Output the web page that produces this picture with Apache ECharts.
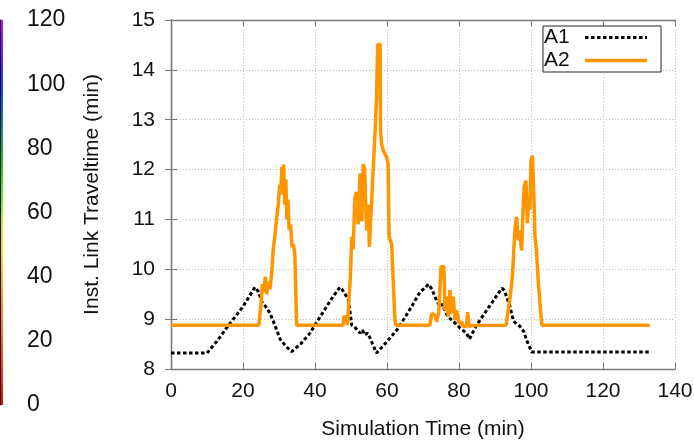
<!DOCTYPE html>
<html>
<head>
<meta charset="utf-8">
<script src="https://cdn.jsdelivr.net/npm/echarts@6/dist/echarts.min.js"></script>
<style>
html,body{margin:0;padding:0;background:#fff;}
#chart{width:694px;height:441px;}
</style>
</head>
<body>
<div id="chart"></div>
<script>
// ---- data ----
const xTicks = [0, 20, 40, 60, 80, 100, 120, 140];
const yTicks = [8, 9, 10, 11, 12, 13, 14, 15];
const colorbarTicks = [0, 20, 40, 60, 80, 100, 120];
const seriesNames = ['A1', 'A2'];

const A1_t = [0, 10, 13, 16, 20, 23.3, 24.3, 25.2, 26.3, 27.5, 29, 30.3, 32, 33.5, 36, 38.6, 41, 43.2, 45, 46.9, 47.5, 48.4, 49.3, 50.2, 51.0, 51.5, 52.5, 53.2, 53.8, 54.6, 55.3, 56, 57.1, 60, 62.7, 66, 69.2, 70.5, 71.5, 72.5, 73.5, 74.7, 75.5, 76.1, 77, 78.4, 79.3, 80.3, 81, 82.1, 82.9, 84.9, 87.7, 90, 91.9, 92.6, 93.2, 94, 95.1, 96.0, 96.9, 98, 98.8, 100.2, 133];
const A1_v = [8.32, 8.32, 8.58, 8.88, 9.25, 9.64, 9.55, 9.35, 9.25, 9.12, 8.85, 8.6, 8.45, 8.35, 8.5, 8.72, 9.0, 9.25, 9.45, 9.64, 9.6, 9.5, 9.38, 8.88, 8.85, 8.8, 8.72, 8.78, 8.68, 8.72, 8.62, 8.5, 8.32, 8.55, 8.78, 9.15, 9.55, 9.62, 9.7, 9.6, 9.42, 9.25, 9.3, 9.15, 9.05, 8.95, 8.9, 8.82, 8.78, 8.72, 8.6, 8.88, 9.18, 9.42, 9.62, 9.58, 9.45, 9.3, 8.97, 8.9, 8.86, 8.75, 8.58, 8.34, 8.34];

const A2_t = [0, 24.4, 25.0, 25.4, 25.8, 26.2, 26.6, 27.0, 27.5, 28.0, 28.4, 28.9, 29.4, 29.8, 30.2, 30.5, 30.8, 31.1, 31.3, 31.6, 31.9, 32.2, 32.5, 32.8, 33.2, 33.6, 34.0, 34.4, 34.9, 47.8, 48.0, 48.8, 49.0, 49.3, 49.8, 50.2, 50.6, 51.1, 51.5, 52.0, 52.5, 53.0, 53.4, 53.8, 54.1, 54.4, 54.8, 55.1, 55.5, 55.9, 56.3, 56.7, 57.1, 57.4, 58.1, 58.2, 58.5, 59.0, 59.9, 60.3, 60.6, 61.3, 62.2, 62.5, 71.9, 72.4, 73.3, 73.8, 74.4, 75.0, 75.8, 76.1, 76.6, 77.0, 77.5, 78.0, 78.4, 78.9, 79.3, 80.1, 80.7, 81.2, 82.1, 82.4, 82.8, 83.5, 93.1, 93.7, 94.2, 94.6, 94.9, 95.3, 95.6, 96.0, 96.3, 96.5, 96.9, 97.2, 97.4, 97.8, 98.1, 98.6, 99.0, 99.4, 99.7, 100.0, 100.4, 100.8, 101.1, 101.5, 102.0, 102.5, 103.0, 133];
const A2_v = [8.88, 8.88, 9.3, 9.7, 9.55, 9.85, 9.5, 9.75, 9.6, 9.95, 10.4, 10.7, 11.05, 11.3, 11.7, 11.5, 12.05, 11.6, 12.1, 11.3, 11.8, 11.0, 11.4, 10.8, 10.9, 10.45, 10.5, 10.3, 8.88, 8.88, 9.05, 9.05, 8.88, 8.88, 9.8, 10.65, 10.4, 11.45, 11.55, 10.9, 11.92, 10.96, 12.11, 12.0, 11.2, 10.78, 11.3, 10.45, 11.05, 11.6, 12.2, 12.78, 13.45, 14.5, 14.52, 12.78, 12.51, 12.38, 12.25, 12.11, 10.65, 10.5, 8.98, 8.88, 8.88, 9.11, 9.08, 8.95, 9.14, 10.05, 10.05, 9.18, 9.45, 9.05, 9.58, 9.11, 9.45, 8.98, 9.18, 8.91, 8.95, 8.85, 8.85, 9.14, 8.85, 8.87, 8.88, 9.2, 9.45, 9.7, 9.92, 10.5, 10.85, 11.05, 10.7, 10.58, 10.78, 10.5, 10.38, 11.2, 11.65, 11.78, 10.92, 11.45, 11.2, 12.18, 12.28, 11.45, 10.65, 10.4, 9.78, 9.3, 8.88, 8.88];

function zip(t, v) { return t.map((x, i) => [x, v[i]]); }

// legend icon shapes (style only)
function dashPath(total, dash, gap, h) {
  let p = 'path://';
  for (let x = 0; x < total; x += dash + gap) {
    const w = Math.min(dash, total - x);
    p += 'M' + x + ',0h' + w + 'v' + h + 'h-' + w + 'z';
  }
  return p;
}
const ICON_A1 = dashPath(62, 3.5, 2.5, 3);
const ICON_A2 = 'path://M0,0h62v3.5h-62z';

const FONT = 'Liberation Sans, Arial, Helvetica, sans-serif';
const chart = echarts.init(document.getElementById('chart'), null, {renderer: 'canvas'});

const gridLine = {show: true, lineStyle: {color: '#bdbdbd', type: [1, 2], width: 1}};
const borderLine = {show: true, lineStyle: {color: '#777', width: 1.3}};

chart.setOption({
  animation: false,
  backgroundColor: '#fff',
  textStyle: {fontFamily: FONT},
  graphic: [{
    type: 'rect',
    shape: {x: 0, y: 20, width: 3, height: 385},
    style: {
      fill: new echarts.graphic.LinearGradient(0, 0, 0, 1, [
        {offset: 0.00, color: '#c800ff'},
        {offset: 0.12, color: '#5a20ff'},
        {offset: 0.18, color: '#1040ff'},
        {offset: 0.26, color: '#0080b0'},
        {offset: 0.34, color: '#00b050'},
        {offset: 0.42, color: '#40e000'},
        {offset: 0.52, color: '#c8f000'},
        {offset: 0.60, color: '#ffe000'},
        {offset: 0.70, color: '#ffb000'},
        {offset: 0.83, color: '#ff6a00'},
        {offset: 1.00, color: '#f00000'}
      ])
    },
    z: 0
  }],
  grid: [
    {left: 171, right: 19, top: 20, bottom: 72, outerBoundsMode: 'none', containLabel: false},
    {left: 0, width: 3, top: 20, height: 385, outerBoundsMode: 'none', containLabel: false}
  ],
  legend: {
    data: [
      {name: seriesNames[0], icon: ICON_A1, itemStyle: {color: '#000'}},
      {name: seriesNames[1], icon: ICON_A2, itemStyle: {color: '#ff9600'}}
    ],
    orient: 'vertical',
    left: 543, top: 26,
    align: 'right',
    itemWidth: 62, itemHeight: 3.5,
    itemGap: 2,
    padding: [1, 14, 1, 1],
    borderColor: '#222', borderWidth: 1,
    backgroundColor: '#fff',
    formatter: name => '{t|' + name + '}',
    textStyle: {fontFamily: FONT, fontSize: 21, color: '#111',
      rich: {t: {fontFamily: FONT, fontSize: 21, color: '#111', width: 36, align: 'left'}}}
  },
  xAxis: [
    {
      type: 'value', gridIndex: 0, min: 0, max: 140, interval: 20,
      name: 'Simulation Time (min)', nameLocation: 'middle', nameGap: 50,
      nameTextStyle: {fontFamily: FONT, fontSize: 21, color: '#111'},
      axisLine: borderLine,
      axisTick: {show: true, inside: true, length: 6, lineStyle: {color: '#777'}},
      axisLabel: {fontFamily: FONT, fontSize: 21, color: '#111', margin: 12,
        formatter: v => xTicks.includes(v) ? String(v) : ''},
      splitLine: gridLine
    },
    {
      type: 'value', gridIndex: 0, min: 0, max: 140, interval: 20, position: 'top',
      axisLine: borderLine,
      axisTick: {show: true, inside: true, length: 6, lineStyle: {color: '#777'}},
      axisLabel: {show: false}, splitLine: {show: false}
    },
    {
      type: 'value', gridIndex: 1, min: 0, max: 1, show: false
    }
  ],
  yAxis: [
    {
      type: 'value', gridIndex: 0, min: 8, max: 15, interval: 1,
      name: 'Inst. Link Traveltime (min)', nameLocation: 'middle', nameGap: 68, nameRotate: 90,
      nameTextStyle: {fontFamily: FONT, fontSize: 21, color: '#111'},
      axisLine: borderLine,
      axisTick: {show: true, inside: true, length: 6, lineStyle: {color: '#777'}},
      axisLabel: {fontFamily: FONT, fontSize: 21, color: '#111', margin: 16,
        formatter: v => yTicks.includes(v) ? String(v) : ''},
      splitLine: gridLine
    },
    {
      type: 'value', gridIndex: 0, min: 8, max: 15, interval: 1, position: 'right',
      axisLine: borderLine,
      axisTick: {show: true, inside: true, length: 6, lineStyle: {color: '#777'}},
      axisLabel: {show: false}, splitLine: {show: false}
    },
    {
      type: 'value', gridIndex: 1, min: 0, max: 120, interval: 20, position: 'right',
      axisLine: {show: true, lineStyle: {color: '#111', width: 1}},
      axisTick: {show: true, inside: true, length: 3, lineStyle: {color: '#333'}},
      axisLabel: {fontFamily: FONT, fontSize: 23, color: '#111', margin: 24, align: 'left',
        formatter: v => colorbarTicks.includes(v) ? String(v) : ''},
      splitLine: {show: false}
    }
  ],
  series: [
    {
      name: 'A1', type: 'line', xAxisIndex: 0, yAxisIndex: 0,
      data: zip(A1_t, A1_v), showSymbol: false, symbol: 'none',
      lineStyle: {color: '#000', width: 3, type: [3.5, 2.5]},
      itemStyle: {color: '#000'}, z: 3
    },
    {
      name: 'A2', type: 'line', xAxisIndex: 0, yAxisIndex: 0,
      data: zip(A2_t, A2_v), showSymbol: false, symbol: 'none',
      lineStyle: {color: '#ff9600', width: 3.5},
      itemStyle: {color: '#ff9600'}, z: 4
    }
  ]
});
</script>
</body>
</html>
